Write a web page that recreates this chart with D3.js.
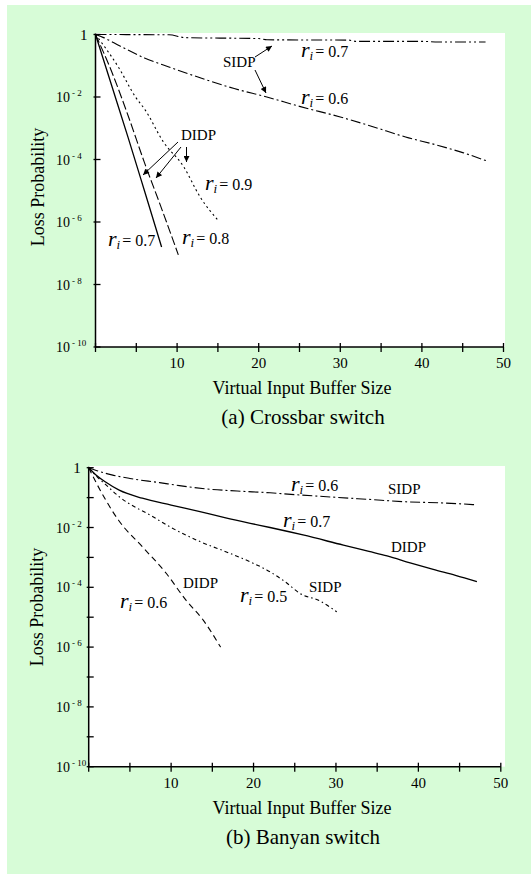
<!DOCTYPE html>
<html>
<head>
<meta charset="utf-8">
<script src="https://cdn.jsdelivr.net/npm/d3@7/dist/d3.min.js"></script>
<style>
  body { margin: 0; background: #fff; }
  svg { display: block; }
  svg text { font-family: "Liberation Serif", "Times New Roman", Times, serif; }
</style>
</head>
<body>
<svg id="fig" width="531" height="874"></svg>
<script>
// ---- data: x = virtual input buffer size, values = log10(loss probability)
var bufferTicks = [0, 5, 10, 15, 20, 25, 30, 35, 40, 45, 50]
var bufferLabels = [10, 20, 30, 40, 50]
var decadeTicksA = [0, -2, -4, -6, -8, -10]
var decadeTicksB = [0, -1, -2, -3, -4, -5, -6, -7, -8, -9, -10]
var decadeLabels = [0, -2, -4, -6, -8, -10]

// (a) crossbar switch
var xbarSidp07X = [0, 9, 11, 20, 21, 31, 32, 40, 42, 47.8]
var xbarSidp07Log = [0, -0.01, -0.1, -0.13, -0.17, -0.18, -0.22, -0.22, -0.24, -0.24]
var xbarSidp06X = [0, 1, 3, 6, 9, 13, 17, 21, 25, 30, 34, 38, 42, 45, 48]
var xbarSidp06Log = [0, -0.1, -0.37, -0.75, -1.04, -1.4, -1.73, -2.0, -2.3, -2.64, -2.95, -3.28, -3.55, -3.78, -4.05]
var xbarDidp09X = [0, 1, 2.8, 4.9, 6.1, 8.3, 10.8, 12.8, 15.1]
var xbarDidp09Log = [0, -0.35, -1.04, -2.0, -2.42, -3.43, -4.23, -5.19, -5.97]
var xbarDidp08X = [0, 2, 4, 6, 8, 10.15]
var xbarDidp08Log = [0, -1.2, -2.6, -4.1, -5.5, -7.05]
var xbarDidp07X = [0, 2, 4, 6, 8.1]
var xbarDidp07Log = [0, -1.65, -3.3, -5.0, -6.8]

// (b) banyan switch
var banSidp06X = [0, 1, 2.8, 5, 8.6, 11, 14.7, 18, 22, 25, 30, 34, 38.5, 43, 47]
var banSidp06Log = [0, -0.1, -0.24, -0.36, -0.5, -0.6, -0.72, -0.78, -0.84, -0.9, -0.99, -1.06, -1.14, -1.18, -1.24]
var banDidp07X = [0, 1, 2, 3.7, 6.5, 10, 13.5, 16.5, 19.6, 22, 26, 30.9, 34, 36.2, 39, 41.8, 44.5, 47.1]
var banDidp07Log = [0, -0.27, -0.47, -0.75, -1.02, -1.25, -1.47, -1.67, -1.86, -2.0, -2.25, -2.59, -2.8, -2.95, -3.18, -3.4, -3.6, -3.81]
var banSidp05X = [0, 1, 2, 3.7, 7.8, 10, 13.5, 17, 20, 21.6, 24, 25.6, 28, 30.1]
var banSidp05Log = [0, -0.3, -0.55, -0.97, -1.64, -2.0, -2.47, -2.85, -3.2, -3.42, -3.85, -4.2, -4.45, -4.82]
var banDidp06X = [0, 1, 2, 3.6, 6.5, 9.4, 11.8, 13.9, 16]
var banDidp06Log = [0, -0.55, -1.05, -1.75, -2.64, -3.53, -4.43, -5.1, -6.0]

var serif = "'Liberation Serif', 'Times New Roman', Times, serif"

var svg = d3.select("#fig").attr("font-family", serif)

svg.append("rect")
    .attr("x", 7).attr("y", 5)
    .attr("width", 524).attr("height", 869)
    .attr("fill", "#d7fcd7")

svg.append("defs").append("marker")
    .attr("id", "arrow")
    .attr("viewBox", "0 0 10 10")
    .attr("refX", 10).attr("refY", 5)
    .attr("markerWidth", 9).attr("markerHeight", 6)
    .attr("markerUnits", "userSpaceOnUse")
    .attr("orient", "auto")
    .append("path")
    .attr("d", "M0,0L10,5L0,10Z")
    .attr("fill", "#000")

function zip(xs, logs) {
    return xs.map(function (v, i) { return [v, Math.pow(10, logs[i])] })
}

function rLabel(g, x, y, value) {
    var t = g.append("text").attr("x", x).attr("y", y).attr("fill", "#000")
    t.append("tspan").attr("font-style", "italic").attr("font-size", 22).text("r")
    t.append("tspan").attr("font-style", "italic").attr("font-size", 13).attr("dy", 3).text("i")
    t.append("tspan").attr("font-size", 16).attr("dy", -3).attr("dx", 2).text("= " + value)
}

function plainLabel(g, x, y, txt) {
    g.append("text").attr("x", x).attr("y", y)
        .attr("font-size", 15).text(txt)
}

function arrow(g, x1, y1, x2, y2) {
    g.append("line")
        .attr("x1", x1).attr("y1", y1).attr("x2", x2).attr("y2", y2)
        .attr("stroke", "#000").attr("stroke-width", 1)
        .attr("marker-end", "url(#arrow)")
}

function drawPanel(p) {
    var g = svg.append("g")
    var x = d3.scaleLinear().domain([0, 50]).range([p.x0, p.x1])
    var y = d3.scaleLog().domain([1e-10, 1]).range([p.yBot, p.yTop])

    g.append("rect")
        .attr("x", p.x0).attr("y", p.plotTop)
        .attr("width", p.plotRight - p.x0).attr("height", p.yBot - p.plotTop)
        .attr("fill", "#fff")

    var line = d3.line()
        .curve(d3.curveMonotoneX)
        .x(function (d) { return x(d[0]) })
        .y(function (d) { return y(d[1]) })

    g.selectAll("path.curve")
        .data(p.curves)
        .enter()
        .append("path")
        .attr("class", "curve")
        .attr("d", function (c) { return line(zip(c.x, c.log)) })
        .attr("fill", "none")
        .attr("stroke", "#000")
        .attr("stroke-width", function (c) { return c.w || 1.1 })
        .attr("stroke-dasharray", function (c) { return c.dash })

    // axes
    g.append("line")
        .attr("x1", p.x0).attr("x2", p.x0)
        .attr("y1", y(1) - 1).attr("y2", p.yBot)
        .attr("stroke", "#000").attr("stroke-width", 1.5)
    g.append("line")
        .attr("x1", p.x0).attr("x2", x(50))
        .attr("y1", p.yBot).attr("y2", p.yBot)
        .attr("stroke", "#000").attr("stroke-width", 1.5)

    g.selectAll("line.xt")
        .data(bufferTicks)
        .enter()
        .append("line")
        .attr("x1", function (d) { return x(d) }).attr("x2", function (d) { return x(d) })
        .attr("y1", p.yBot - 4).attr("y2", p.yBot + 5)
        .attr("stroke", "#000").attr("stroke-width", 1.3)

    g.selectAll("text.xl")
        .data(bufferLabels)
        .enter()
        .append("text")
        .attr("x", function (d) { return x(d) })
        .attr("y", p.yBot + 21)
        .attr("text-anchor", "middle")
        .attr("font-size", 15)
        .text(function (d) { return d })

    g.selectAll("line.yt")
        .data(p.yTicks)
        .enter()
        .append("line")
        .attr("x1", p.x0 - 2).attr("x2", p.x0 + 5)
        .attr("y1", function (d) { return y(Math.pow(10, d)) })
        .attr("y2", function (d) { return y(Math.pow(10, d)) })
        .attr("stroke", "#000").attr("stroke-width", 1.3)

    decadeLabels.forEach(function (d) {
        var yy = y(Math.pow(10, d))
        if (d === 0) {
            g.append("text").attr("x", p.x0 - 8).attr("y", yy + 5)
                .attr("text-anchor", "end").attr("font-size", 15).text("1")
        } else {
            var t = g.append("text").attr("x", 56).attr("y", yy + 5).attr("font-size", 14)
            t.append("tspan").text("10")
            t.append("tspan").attr("dx", 2).attr("dy", -6).attr("font-size", 9).text("- " + (-d))
        }
    })

    g.append("text")
        .attr("transform", "translate(" + p.yTitleX + "," + p.yTitleY + ") rotate(-90)")
        .attr("text-anchor", "middle")
        .attr("font-size", 18)
        .text("Loss Probability")

    g.append("text")
        .attr("x", 302).attr("y", p.yBot + 47)
        .attr("text-anchor", "middle")
        .attr("font-size", 18)
        .text("Virtual Input Buffer Size")

    g.append("text")
        .attr("x", 303).attr("y", p.yBot + 77)
        .attr("text-anchor", "middle")
        .attr("font-size", 21)
        .text(p.caption)

    p.annotate(g)
}

drawPanel({
    x0: 95.5, x1: 503.5, yTop: 34.5, yBot: 347,
    plotTop: 33, plotRight: 505,
    yTicks: decadeTicksA,
    yTitleX: 44, yTitleY: 187,
    caption: "(a) Crossbar switch",
    curves: [
        { x: xbarSidp07X, log: xbarSidp07Log, dash: "11,3,2,3,2,3" },
        { x: xbarSidp06X, log: xbarSidp06Log, dash: "10,3,2,3" },
        { x: xbarDidp09X, log: xbarDidp09Log, dash: "2,3" },
        { x: xbarDidp08X, log: xbarDidp08Log, dash: "9,3" },
        { x: xbarDidp07X, log: xbarDidp07Log, dash: null, w: 1.3 }
    ],
    annotate: function (g) {
        rLabel(g, 301, 57, "0.7")
        rLabel(g, 301, 104, "0.6")
        rLabel(g, 205, 190, "0.9")
        rLabel(g, 108, 246, "0.7")
        rLabel(g, 182, 244, "0.8")
        plainLabel(g, 223, 67, "SIDP")
        plainLabel(g, 181, 140, "DIDP")
        arrow(g, 255, 57, 272, 46)
        arrow(g, 255, 70, 266, 93)
        arrow(g, 178, 142, 143, 175)
        arrow(g, 181, 147, 156, 178)
        arrow(g, 186.5, 147, 186.5, 162)
    }
})

drawPanel({
    x0: 88.7, x1: 500.8, yTop: 467.7, yBot: 766.7,
    plotTop: 466, plotRight: 505,
    yTicks: decadeTicksB,
    yTitleX: 43, yTitleY: 607,
    caption: "(b) Banyan switch",
    curves: [
        { x: banSidp06X, log: banSidp06Log, dash: "10,3,2,3" },
        { x: banDidp07X, log: banDidp07Log, dash: null, w: 1.3 },
        { x: banSidp05X, log: banSidp05Log, dash: "4,3,1.5,3" },
        { x: banDidp06X, log: banDidp06Log, dash: "6,4" }
    ],
    annotate: function (g) {
        rLabel(g, 291, 491, "0.6")
        rLabel(g, 283, 527, "0.7")
        rLabel(g, 120, 608, "0.6")
        rLabel(g, 240, 602, "0.5")
        plainLabel(g, 388, 494, "SIDP")
        plainLabel(g, 391, 552, "DIDP")
        plainLabel(g, 183, 588, "DIDP")
        plainLabel(g, 309, 592, "SIDP")
    }
})
</script>
</body>
</html>
